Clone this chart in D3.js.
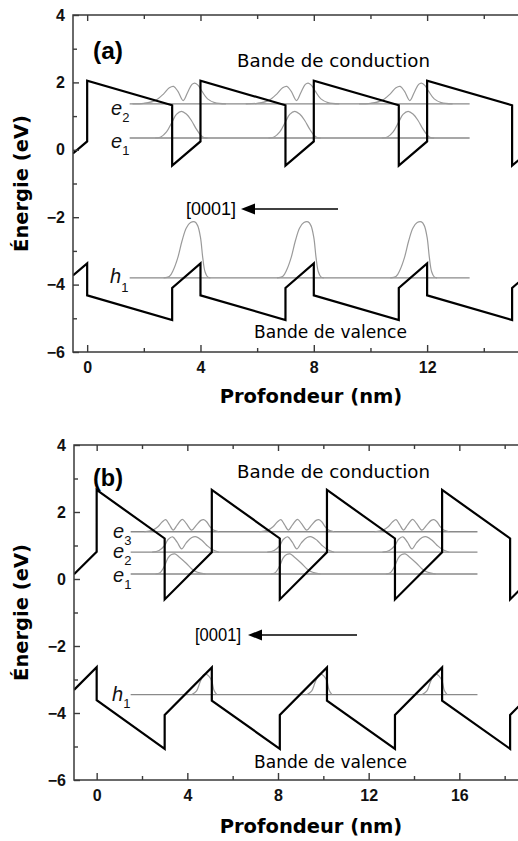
<!DOCTYPE html>
<html><head><meta charset="utf-8">
<script src="https://cdn.jsdelivr.net/npm/d3@7"></script>
<style>body{margin:0;background:#fff}svg{display:block}</style>
</head><body>
<svg id="c" width="518" height="841"></svg>
<script>
// ---------- DATA ----------
// panel (a): band edges [depth nm, energy eV]
const cbA = [[-0.5,-0.11],[0,0.25],[0,2.05],[3,1.32],[3,-0.47],[4,0.25],[4,2.05],[7,1.32],[7,-0.47],[8,0.25],[8,2.05],[11,1.32],[11,-0.47],[12,0.25],[12,2.05],[15,1.32],[15,-0.47],[16,0.25],[16,2.05],[19,1.32]];
const vbA = [[-0.5,-3.73],[0,-3.37],[0,-4.32],[3,-5.05],[3,-4.10],[4,-3.37],[4,-4.32],[7,-5.05],[7,-4.10],[8,-3.37],[8,-4.32],[11,-5.05],[11,-4.10],[12,-3.37],[12,-4.32],[15,-5.05],[15,-4.10],[16,-3.37],[16,-4.32],[19,-5.05]];
const levelNamesA = ["e", "e", "h"];
const levelSubsA = ["2", "1", "1"];
const levelEA = [1.36, 0.35, -3.80];
const levelSpanA = [1.5, 13.5];
const wellStartsA = [3, 7, 11];
// wavefunction profiles: [offset from well start nm, height above level eV]
const psiE1A = [[-0.6,0],[-0.4,0.03],[-0.2,0.18],[0,0.48],[0.15,0.7],[0.33,0.79],[0.5,0.71],[0.68,0.52],[0.85,0.27],[1.0,0.09],[1.12,0.01],[1.25,0]];
const psiE2A = [[-1.4,0],[-1.0,0.02],[-0.6,0.1],[-0.3,0.3],[-0.1,0.48],[0.05,0.52],[0.2,0.38],[0.39,0.1],[0.55,0.35],[0.7,0.58],[0.8,0.62],[0.92,0.55],[1.05,0.38],[1.25,0.15],[1.5,0.04],[1.9,0]];
const psiH1A = [[-0.3,0],[-0.1,0.04],[0.05,0.25],[0.2,0.6],[0.35,1.1],[0.5,1.48],[0.65,1.64],[0.8,1.66],[0.9,1.55],[1.0,1.2],[1.08,0.6],[1.16,0.18],[1.25,0.03],[1.35,0]];

// panel (b)
const cbB = [[-1,0.14],[0,0.81],[0,2.66],[3,1.21],[3,-0.61],[5.08,0.80],[5.08,2.66],[8.08,1.21],[8.08,-0.61],[10.16,0.80],[10.16,2.66],[13.16,1.21],[13.16,-0.61],[15.24,0.80],[15.24,2.66],[18.24,1.21],[18.24,-0.61],[20.32,0.80]];
const vbB = [[-1,-3.31],[0,-2.63],[0,-3.62],[3,-5.07],[3,-4.06],[5.08,-2.64],[5.08,-3.63],[8.08,-5.07],[8.08,-4.06],[10.16,-2.64],[10.16,-3.63],[13.16,-5.07],[13.16,-4.06],[15.24,-2.64],[15.24,-3.63],[18.24,-5.07],[18.24,-4.06],[20.32,-2.64]];
const levelNamesB = ["e", "e", "e", "h"];
const levelSubsB = ["3", "2", "1", "1"];
const levelEB = [1.41, 0.80, 0.15, -3.45];
const levelSpanB = [1.5, 16.8];
const wellStartsB = [3, 8.08, 13.16];
const psiE1B = [[-0.4,0],[-0.2,0.04],[0,0.25],[0.15,0.48],[0.3,0.58],[0.45,0.6],[0.65,0.5],[0.95,0.32],[1.2,0.15],[1.45,0.05],[1.8,0]];
const psiE2B = [[-0.55,0],[-0.25,0.05],[0,0.2],[0.15,0.38],[0.35,0.46],[0.55,0.3],[0.75,0.1],[0.95,0.28],[1.2,0.44],[1.4,0.46],[1.65,0.35],[1.9,0.18],[2.1,0.08],[2.4,0]];
const psiE3B = [[-0.9,0],[-0.55,0.04],[-0.3,0.15],[-0.1,0.3],[0.05,0.36],[0.2,0.22],[0.38,0.05],[0.55,0.2],[0.78,0.37],[0.95,0.25],[1.19,0.05],[1.4,0.2],[1.6,0.34],[1.72,0.36],[1.85,0.3],[2.0,0.15],[2.15,0.05],[2.4,0]];
const psiH1B = [[1.2,0],[1.4,0.1],[1.55,0.35],[1.7,0.58],[1.8,0.62],[1.95,0.55],[2.08,0.4],[2.18,0.12],[2.3,0]];

const xTicks = [0, 4, 8, 12, 16, 20];
const xMinor = [2, 6, 10, 14, 18];
const yTicks = [-6, -4, -2, 0, 2, 4];
const yMinor = [-5, -3, -1, 1, 3];
const bandTexts = ["Bande de conduction", "Bande de valence"];
const dirText = "[0001]";
const xTitle = "Profondeur (nm)";
const yTitle = "Énergie (eV)";

// ---------- DRAWING ----------
const svg = d3.select("#c");
const W = 518;

function panel(o) {
  const x = d3.scaleLinear().domain(o.xd).range(o.xr);
  const y = d3.scaleLinear().domain([-6, 4]).range(o.yr);
  const g = svg.append("g");
  const cid = "clip" + o.id;
  g.append("clipPath").attr("id", cid).append("rect")
    .attr("x", o.xr[0]).attr("y", o.yr[1]).attr("width", o.xr[1] - o.xr[0]).attr("height", o.yr[0] - o.yr[1]);
  const pg = g.append("g").attr("clip-path", `url(#${cid})`);
  const line = d3.line().x(d => x(d[0])).y(d => y(d[1]));
  // levels
  o.levelE.forEach(E => {
    pg.append("line").attr("x1", x(o.span[0])).attr("x2", x(o.span[1]))
      .attr("y1", y(E)).attr("y2", y(E)).attr("stroke", "#8a8a8a").attr("stroke-width", 1.3);
  });
  // wavefunctions
  const wl = d3.line().x(d => x(d[0])).y(d => y(d[1])).curve(d3.curveCatmullRom.alpha(0.5));
  o.psis.forEach((p, i) => {
    o.wells.forEach(w => {
      pg.append("path").attr("d", wl(p.map(d => [w + d[0], o.levelE[i] + d[1]])))
        .attr("fill", "none").attr("stroke", "#9a9a9a").attr("stroke-width", 1.2);
    });
  });
  // bands
  [o.cb, o.vb].forEach(b => {
    pg.append("path").attr("d", line(b)).attr("fill", "none").attr("stroke", "#000")
      .attr("stroke-width", 2.2).attr("stroke-linejoin", "miter");
  });
  // axes
  const axColor = "#3a3a3a";
  function style(sel) {
    sel.select(".domain").remove();
    sel.selectAll("line").attr("stroke", axColor).attr("stroke-width", 1.4);
    sel.selectAll("text").attr("font-family", "Liberation Sans, Arial, sans-serif")
      .attr("font-weight", "bold").attr("font-size", 16).attr("fill", "#111");
  }
  const xt = xTicks.filter(t => t >= o.xd[0] && t <= o.xd[1]);
  const xm = xMinor.filter(t => t >= o.xd[0] && t <= o.xd[1]);
  const xtLabelled = xt.filter(t => x(t) + 12 <= W);
  g.append("g").attr("transform", `translate(0,${o.yr[0]})`)
    .call(d3.axisBottom(x).tickValues(xtLabelled).tickSize(-7).tickPadding(10).tickFormat(d3.format("d"))).call(style);
  g.append("g").attr("transform", `translate(0,${o.yr[0]})`)
    .call(d3.axisBottom(x).tickValues(xm).tickSize(-4).tickFormat("")).call(style);
  g.append("g").attr("transform", `translate(0,${o.yr[1]})`)
    .call(d3.axisTop(x).tickValues(xt).tickSize(-6).tickFormat("")).call(style);
  g.append("g").attr("transform", `translate(0,${o.yr[1]})`)
    .call(d3.axisTop(x).tickValues(xm).tickSize(-4).tickFormat("")).call(style);
  g.append("g").attr("transform", `translate(${o.xr[0]},0)`)
    .call(d3.axisLeft(y).tickValues(yTicks).tickSize(-6).tickPadding(8).tickFormat(d3.format("d"))).call(style);
  g.append("g").attr("transform", `translate(${o.xr[0]},0)`)
    .call(d3.axisLeft(y).tickValues(yMinor).tickSize(-4).tickFormat("")).call(style);
  g.append("rect").attr("x", o.xr[0]).attr("y", o.yr[1]).attr("width", o.xr[1] - o.xr[0])
    .attr("height", o.yr[0] - o.yr[1]).attr("fill", "none").attr("stroke", axColor).attr("stroke-width", 1.5);
  // titles
  g.append("text").attr("x", 311).attr("y", o.xTitleY).attr("text-anchor", "middle")
    .attr("font-family", "DejaVu Sans, sans-serif").attr("font-weight", "bold").attr("font-size", 19.5).text(xTitle);
  g.append("text").attr("transform", `translate(28,${(o.yr[0] + o.yr[1]) / 2}) rotate(-90)`).attr("text-anchor", "middle")
    .attr("font-family", "DejaVu Sans, sans-serif").attr("font-weight", "bold").attr("font-size", 19.5).text(yTitle);
  // panel tag
  g.append("text").attr("x", 93).attr("y", o.tagY).attr("font-family", "Liberation Sans, Arial, sans-serif")
    .attr("font-weight", "bold").attr("font-size", 23).attr("textLength", 30).attr("lengthAdjust", "spacingAndGlyphs").text(o.tag);
  // band labels
  g.append("text").attr("x", 237).attr("y", o.cbTextY).attr("font-family", "DejaVu Sans, sans-serif")
    .attr("font-size", 17.5).attr("textLength", 193).attr("lengthAdjust", "spacingAndGlyphs").text(bandTexts[0]);
  g.append("text").attr("x", 254).attr("y", o.vbTextY).attr("font-family", "DejaVu Sans, sans-serif")
    .attr("font-size", 17).attr("textLength", 153).attr("lengthAdjust", "spacingAndGlyphs").text(bandTexts[1]);
  // direction arrow
  g.append("text").attr("x", o.dir.tx).attr("y", o.dir.y + 6).attr("font-family", "Liberation Sans, Arial, sans-serif")
    .attr("font-size", 17.5).attr("textLength", o.dir.tw).attr("lengthAdjust", "spacingAndGlyphs").text(dirText);
  g.append("line").attr("x1", o.dir.head + 10).attr("x2", o.dir.end).attr("y1", o.dir.y).attr("y2", o.dir.y)
    .attr("stroke", "#000").attr("stroke-width", 1.4);
  g.append("path").attr("d", `M${o.dir.head},${o.dir.y}L${o.dir.head + 14},${o.dir.y - 5.5}L${o.dir.head + 14},${o.dir.y + 5.5}Z`).attr("fill", "#000");
  // level labels
  o.levelE.forEach((E, i) => {
    const t = g.append("text").attr("x", o.lblX[i]).attr("y", o.lblY[i])
      .attr("font-family", "Liberation Sans, Arial, sans-serif").attr("fill", "#111");
    t.append("tspan").attr("font-style", "italic").attr("font-size", 20).text(o.names[i]);
    t.append("tspan").attr("font-size", 13).attr("dy", o.subDy[i]).text(o.subs[i]);
  });
}

panel({
  id: "a", tag: "(a)", xd: [-0.5, 16.5], xr: [73, 554.6], yr: [352, 15],
  cb: cbA, vb: vbA, levelE: levelEA, span: levelSpanA, wells: wellStartsA,
  psis: [psiE2A, psiE1A, psiH1A], names: levelNamesA, subs: levelSubsA,
  lblX: [111, 111, 110], lblY: [115, 148, 283], subDy: [7, 7, 9],
  xTitleY: 403, tagY: 59, cbTextY: 67, vbTextY: 338,
  dir: { tx: 186, tw: 50, y: 209, head: 241, end: 338 }
});
panel({
  id: "b", tag: "(b)", xd: [-1, 20], xr: [74, 550], yr: [780, 445],
  cb: cbB, vb: vbB, levelE: levelEB, span: levelSpanB, wells: wellStartsB,
  psis: [psiE3B, psiE2B, psiE1B, psiH1B], names: levelNamesB, subs: levelSubsB,
  lblX: [113, 113, 113, 112], lblY: [538, 558, 582, 701], subDy: [7, 7, 7, 7],
  xTitleY: 833, tagY: 486, cbTextY: 478, vbTextY: 768,
  dir: { tx: 195, tw: 46, y: 635, head: 248, end: 357 }
});
</script>
</body></html>
